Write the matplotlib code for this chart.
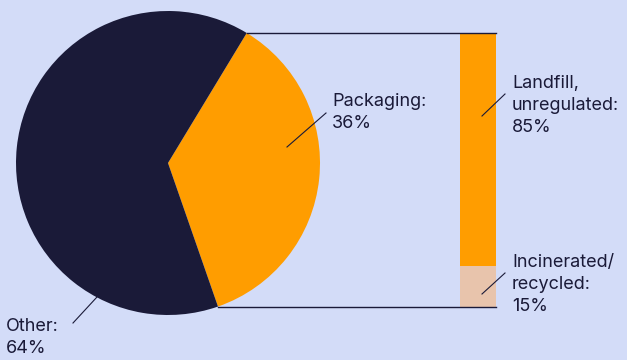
import numpy as np
import matplotlib.pyplot as plt

# pie: share of waste
pie_labels = ['Packaging', 'Other']
pie_values = [36, 64]

# bar: what happens to the packaging share
bar_labels = ['Landfill,\nunregulated', 'Incinerated/\nrecycled']
bar_values = [85, 15]

BG = '#d3dcf8'
NAVY = '#1a1a38'
ORANGE = '#ff9d00'
PEACH = '#e8c4ac'

plt.rcParams['font.family'] = ['Inter', 'DejaVu Sans']

W, H = 627, 360
fig = plt.figure(figsize=(W / 100, H / 100), dpi=100, facecolor=BG)
ax = fig.add_axes([0, 0, 1, 1])
ax.set_facecolor(BG)

cx, cy, r = 168, 197, 152
start = -70.8
wedges, _ = ax.pie(pie_values, colors=[ORANGE, NAVY], startangle=start,
                   center=(cx, cy), radius=r, counterclock=True,
                   wedgeprops=dict(linewidth=0))

# endpoints of the packaging wedge on the circle
w = wedges[0]
t1, t2 = np.deg2rad(w.theta1), np.deg2rad(w.theta2)
p_top = (cx + r * np.cos(t2), cy + r * np.sin(t2))
p_bot = (cx + r * np.cos(t1), cy + r * np.sin(t1))

# stacked bar spanning the wedge height
bx, bw = 478, 36
span = p_top[1] - p_bot[1]
total = sum(bar_values)
bottom = p_bot[1]
heights = [v / total * span for v in bar_values]
# recycled at bottom, landfill on top
ax.bar(bx, heights[1], width=bw, bottom=bottom, color=PEACH, linewidth=0)
ax.bar(bx, heights[0], width=bw, bottom=bottom + heights[1], color=ORANGE, linewidth=0)

# connection lines
right = bx + bw / 2
ax.plot([p_top[0], right], [p_top[1], p_top[1]], color=NAVY, lw=1)
ax.plot([p_bot[0], right], [p_bot[1], p_bot[1]], color=NAVY, lw=1)

fs = 13
ls = 1.38


def label(text, tx, ty, line):
    ax.text(tx, H - ty, text, fontsize=fs, color=NAVY, ha='left', va='top',
            linespacing=ls)
    (x0, y0), (x1, y1) = line
    ax.plot([x0, x1], [H - y0, H - y1], color=NAVY, lw=0.8)


label(f'{pie_labels[0]}:\n{pie_values[0]}%', 332, 93, ((287, 147), (326, 113)))
label(f'{pie_labels[1]}:\n{pie_values[1]}%', 6, 318, ((73, 323), (97, 297)))
label(f'{bar_labels[0]}:\n{bar_values[0]}%', 512, 75, ((482, 116), (505, 94)))
label(f'{bar_labels[1]}:\n{bar_values[1]}%', 512, 254, ((482, 294), (505, 273)))

ax.set_xlim(0, W)
ax.set_ylim(0, H)
ax.set_aspect('auto')
ax.axis('off')

fig.savefig('out.png', dpi=100, facecolor=BG)
